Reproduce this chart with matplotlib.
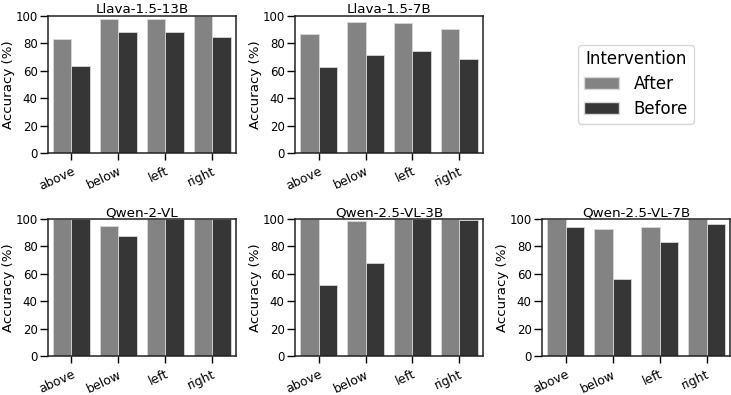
import numpy as np
import matplotlib
matplotlib.use("Agg")
import matplotlib.pyplot as plt
from matplotlib.patches import Patch

# data
relations = ["above", "below", "left", "right"]
models = ["Llava-1.5-13B", "Llava-1.5-7B", "Qwen-2-VL", "Qwen-2.5-VL-3B", "Qwen-2.5-VL-7B"]

after_llava13 = [83.5, 97.6, 98.0, 100.0]
before_llava13 = [63.4, 88.4, 88.1, 84.8]
after_llava7 = [86.7, 95.6, 94.7, 90.3]
before_llava7 = [62.5, 71.7, 74.1, 68.8]
after_qwen2 = [100.0, 94.6, 100.0, 100.0]
before_qwen2 = [100.0, 87.8, 100.0, 100.0]
after_qwen25_3 = [100.0, 98.3, 100.0, 100.0]
before_qwen25_3 = [51.5, 67.9, 100.0, 99.3]
after_qwen25_7 = [100.0, 92.4, 94.1, 100.0]
before_qwen25_7 = [94.4, 56.3, 82.9, 96.3]

after_all = [after_llava13, after_llava7, after_qwen2, after_qwen25_3, after_qwen25_7]
before_all = [before_llava13, before_llava7, before_qwen2, before_qwen25_3, before_qwen25_7]

conditions = ["After", "Before"]
colors = {"After": "#838383", "Before": "#363636"}

plt.rcParams["font.family"] = "DejaVu Sans"

fig, axes = plt.subplots(2, 3, figsize=(7.31, 3.95), dpi=100)
fig.subplots_adjust(left=48 / 731, right=730 / 731, top=1 - 16 / 395,
                    bottom=1 - 356 / 395, wspace=0.314, hspace=0.482)

slots = [axes[0, 0], axes[0, 1], axes[1, 0], axes[1, 1], axes[1, 2]]
x = np.arange(len(relations))
bw = 0.4

for ax, name, aft, bef in zip(slots, models, after_all, before_all):
    ax.bar(x - bw / 2, aft, width=bw, color=colors["After"],
           edgecolor="#d8d8d8", linewidth=0.6)
    ax.bar(x + bw / 2, bef, width=bw, color=colors["Before"],
           edgecolor="#d8d8d8", linewidth=0.6)
    ax.set_xlim(-0.5, len(relations) - 0.5)
    ax.set_ylim(0, 100)
    ax.set_yticks([0, 20, 40, 60, 80, 100])
    ax.set_xticks(x)
    ax.set_xticklabels(relations, rotation=25, ha="right",
                       rotation_mode="anchor", fontsize=9)
    ax.tick_params(axis="y", labelsize=8.5, length=6, width=1, pad=1.5)
    ax.tick_params(axis="x", length=5, width=1, pad=3.5)
    ax.set_ylabel("Accuracy (%)", fontsize=9.6, labelpad=0.5)
    ax.set_title(name, fontsize=9.7, pad=1.5)
    for sp in ax.spines.values():
        sp.set_linewidth(1.1)
        sp.set_color("#222222")

axes[0, 2].axis("off")

handles = [Patch(facecolor=colors[c], edgecolor="#d8d8d8") for c in conditions]
leg = fig.legend(handles, conditions, title="Intervention", loc="center",
                 bbox_to_anchor=(636 / 731, 1 - 84 / 395), fontsize=12,
                 title_fontsize=12, frameon=True, handlelength=2.1,
                 handletextpad=0.85, labelspacing=0.4, borderpad=0.35)
leg.get_frame().set_edgecolor("#cccccc")

fig.savefig("out.png", dpi=100)
